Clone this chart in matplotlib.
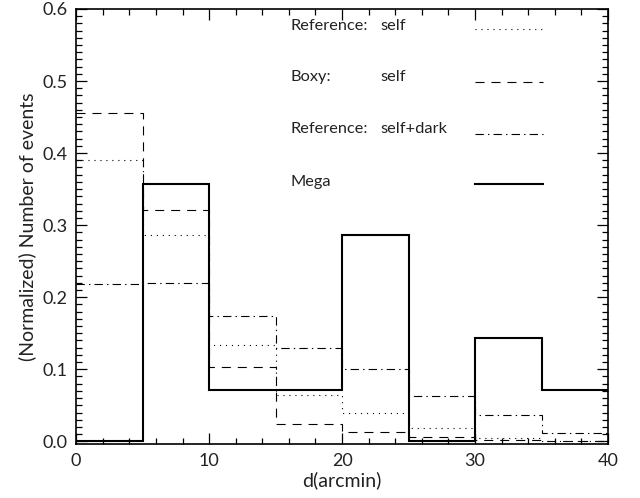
import matplotlib.pyplot as plt
import numpy as np
from matplotlib.ticker import MultipleLocator

plt.rcParams["font.family"] = ["Lato", "DejaVu Sans"]
plt.rcParams["lines.scale_dashes"] = False

# distance bins (arcmin) and normalized counts per sample
bin_edges = [0, 5, 10, 15, 20, 25, 30, 35, 40]
ref_self = [0.391, 0.287, 0.134, 0.064, 0.039, 0.018, 0.005, 0.001]
boxy_self = [0.455, 0.321, 0.103, 0.024, 0.013, 0.006, 0.002, 0.001]
ref_self_dark = [0.219, 0.220, 0.174, 0.130, 0.100, 0.063, 0.036, 0.012]
mega = [0.0, 0.357, 0.071, 0.071, 0.286, 0.0, 0.143, 0.071]

labels_left = ["Reference:", "Boxy:", "Reference:", "Mega"]
labels_right = ["self", "self", "self+dark", ""]

dotted = (0, (0.8, 3.5))
dashed = (0, (6.5, 5.0))
dashdot = (0, (6.0, 3.0, 1.0, 3.0))

fig = plt.figure(figsize=(6.4, 4.98), dpi=100)
ax = fig.add_axes([0.119, 0.108, 0.831, 0.874])

series = [
    (ref_self, dotted, 0.8),
    (boxy_self, dashed, 0.8),
    (ref_self_dark, dashdot, 0.8),
    (mega, "-", 1.5),
]
for vals, ls, lw in series:
    ax.stairs(vals, bin_edges, baseline=None, color="black",
              linestyle=ls, linewidth=lw)

# hand-made key in the upper middle
text_y = [0.576, 0.506, 0.434, 0.360]
line_y = [0.572, 0.499, 0.427, 0.357]
for i, (vals, ls, lw) in enumerate(series):
    ax.text(16.1, text_y[i], labels_left[i], fontsize=11.8, va="center",
            ha="left", color="#222222")
    if labels_right[i]:
        ax.text(22.9, text_y[i], labels_right[i], fontsize=11.8,
                va="center", ha="left", color="#222222")
    ax.plot([30.0, 35.1], [line_y[i], line_y[i]], color="black",
            linestyle=ls, linewidth=lw)

ax.set_xlim(0, 40)
ax.set_ylim(-0.004, 0.6)
ax.set_xticks(np.arange(0, 41, 10))
ax.set_yticks(np.arange(0, 0.61, 0.1))
ax.set_yticklabels(["%.1f" % v for v in np.arange(0, 0.61, 0.1)])
ax.xaxis.set_minor_locator(MultipleLocator(2))
ax.yaxis.set_minor_locator(MultipleLocator(0.01))
ax.tick_params(which="both", direction="in", top=True, right=True,
               labelsize=13, labelcolor="#222222", width=0.9, pad=6)
ax.tick_params(which="major", length=8)
ax.tick_params(which="minor", length=4.3)
for sp in ax.spines.values():
    sp.set_linewidth(1.2)

ax.set_xlabel("d(arcmin)", fontsize=14, labelpad=2, color="#222222")
ax.set_ylabel("(Normalized) Number of events", fontsize=14, labelpad=5,
              color="#222222")

fig.savefig("out.png", dpi=100)
